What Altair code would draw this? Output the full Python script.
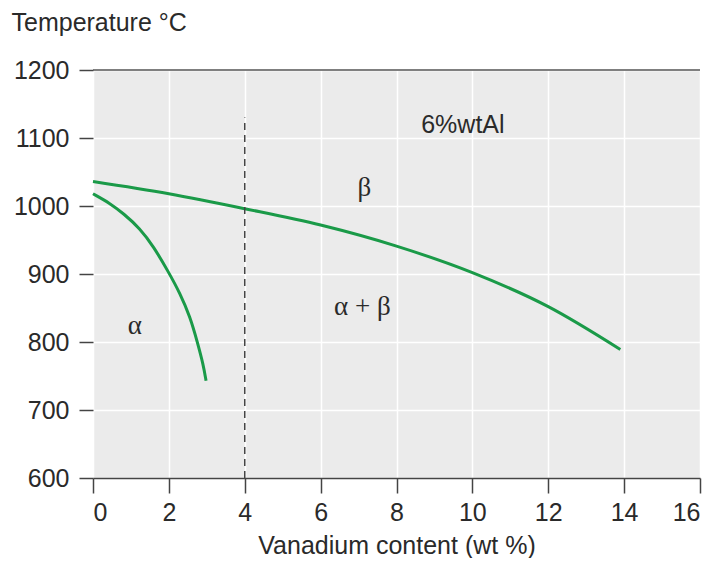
import altair as alt
import pandas as pd

# beta transus curve
beta_x = [0, 2, 4, 6, 8, 10, 12, 13.9]
beta_t = [1036, 1018, 996, 972, 941, 902, 852, 789]
# alpha boundary curve
alpha_x = [0, 0.45, 0.8, 1.24, 1.59, 2.0, 2.29, 2.56, 2.75, 2.91, 2.98]
alpha_t = [1018, 1004, 989, 967, 941, 902, 872, 837, 800, 766, 743]

greek_text = ["α", "α + β", "β"]
greek_x = [1.1, 7.1, 7.15]
greek_t = [824, 851, 1026]

note_text = ["6%wtAl"]
note_x = [9.75]
note_t = [1119]

dash_x = 4
dash_top = 1130

x_ticks = [0, 2, 4, 6, 8, 10, 12, 14, 16]
y_ticks = [600, 700, 800, 900, 1000, 1100, 1200]

beta_df = pd.DataFrame({"v": beta_x, "t": beta_t})
alpha_df = pd.DataFrame({"v": alpha_x, "t": alpha_t})
greek = pd.DataFrame({"v": greek_x, "t": greek_t, "label": greek_text})
note = pd.DataFrame({"v": note_x, "t": note_t, "label": note_text})

FONT = "Liberation Sans"
TXT = "#2a2a2a"
GREEN = "#1a9a48"
xscale = alt.Scale(domain=[0, 16], nice=False, zero=False)
yscale = alt.Scale(domain=[600, 1200], nice=False, zero=False)

xenc = alt.X("v:Q", scale=xscale, axis=alt.Axis(
    values=x_ticks, format="d", title="Vanadium content (wt %)", grid=True, gridColor="white",
    gridWidth=1.5, domain=True, domainColor="#444", domainWidth=1.5,
    ticks=True, tickSize=15, tickColor="#444", tickWidth=1.5,
    labelFont=FONT, labelFontSize=25, labelColor=TXT, labelPadding=7,
    titleFont=FONT, titleFontSize=25, titleFontWeight="normal", titleColor=TXT,
    titleBaseline="middle", titleY=67))
yenc = alt.Y("t:Q", scale=yscale, axis=alt.Axis(
    values=y_ticks, format="d", title="Temperature °C", grid=True, gridColor="white",
    gridWidth=1.5, domain=False, ticks=True, tickSize=14, tickColor="#444",
    tickWidth=1.5, labelFont=FONT, labelFontSize=25, labelColor=TXT,
    labelPadding=10, titleFont=FONT, titleFontSize=25, titleFontWeight="normal",
    titleColor=TXT, titleAngle=0, titleAlign="left", titleBaseline="middle",
    titleX=-82, titleY=-48))

beta_line = alt.Chart(beta_df).mark_line(color=GREEN, strokeWidth=3, interpolate="monotone").encode(
    x=xenc, y=yenc)
alpha_line = alt.Chart(alpha_df).mark_line(color=GREEN, strokeWidth=3, interpolate="basis").encode(
    x=alt.X("v:Q", scale=xscale), y=alt.Y("t:Q", scale=yscale))

top_rule = alt.Chart(pd.DataFrame({"t": [1200]})).mark_rule(color="#555", strokeWidth=1.5).encode(
    y=alt.Y("t:Q", scale=yscale))

dash = alt.Chart(pd.DataFrame({"v": [dash_x], "t": [600], "t2": [dash_top]})).mark_rule(
    color="#444", strokeWidth=1.5, strokeDash=[7, 5]).encode(
    x=alt.X("v:Q", scale=xscale), y=alt.Y("t:Q", scale=yscale), y2="t2:Q")

greek_layer = alt.Chart(greek).mark_text(font="Liberation Serif", fontSize=27, color=TXT).encode(
    x=alt.X("v:Q", scale=xscale), y=alt.Y("t:Q", scale=yscale), text="label:N")

note_layer = alt.Chart(note).mark_text(font=FONT, fontSize=25, color=TXT).encode(
    x=alt.X("v:Q", scale=xscale), y=alt.Y("t:Q", scale=yscale), text="label:N")

chart = alt.layer(beta_line, alpha_line, dash, top_rule, greek_layer, note_layer).properties(
    width=607, height=408, autosize="none",
    padding={"left": 85, "top": 62, "right": 8, "bottom": 80},
).configure_view(stroke=None, fill="#ebebeb")

chart.save("out.html", embed_options={"renderer": "svg", "actions": False})
